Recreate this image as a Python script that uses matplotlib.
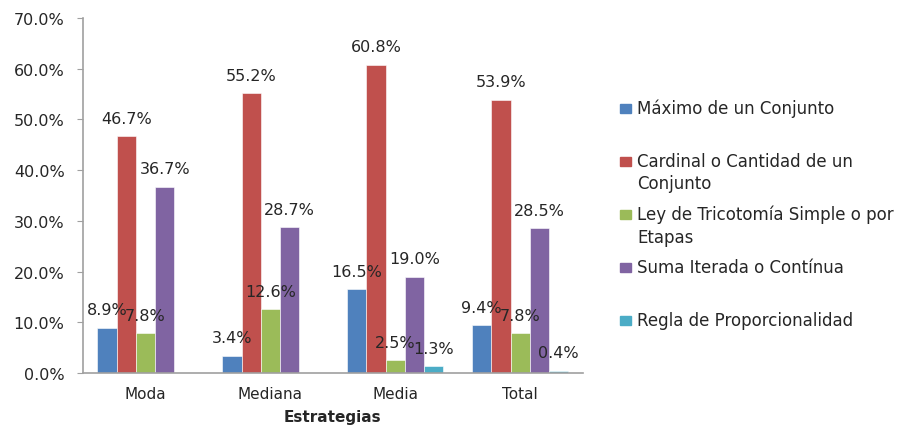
import matplotlib
matplotlib.use("Agg")
import matplotlib.pyplot as plt
import numpy as np
from matplotlib.patches import Rectangle

categories = ["Moda", "Mediana", "Media", "Total"]
series_names = [
    "Máximo de un Conjunto",
    "Cardinal o Cantidad de un\nConjunto",
    "Ley de Tricotomía Simple o por\nEtapas",
    "Suma Iterada o Contínua",
    "Regla de Proporcionalidad",
]
maximo = [8.9, 3.4, 16.5, 9.4]
cardinal = [46.7, 55.2, 60.8, 53.9]
tricotomia = [7.8, 12.6, 2.5, 7.8]
suma = [36.7, 28.7, 19.0, 28.5]
proporcionalidad = [np.nan, np.nan, 1.3, 0.4]
yticks = [0, 10, 20, 30, 40, 50, 60, 70]

series = [maximo, cardinal, tricotomia, suma, proporcionalidad]
colors = ["#4F81BD", "#C0504D", "#9BBB59", "#8064A2", "#4BACC6"]
text_color = "#262626"

fig = plt.figure(figsize=(9.02, 4.27), dpi=100)
ax = fig.add_axes([0.092, 0.1241, 0.554, 0.8314])

x = np.arange(len(categories))
width = 0.154
for i, (vals, color) in enumerate(zip(series, colors)):
    pos = x + (i - 2) * width
    ax.bar(pos, vals, width=width, color=color, edgecolor="white", linewidth=0.4)
    for px, v in zip(pos, vals):
        if np.isnan(v):
            continue
        ax.annotate(f"{v:.1f}%", (px, v), xytext=(0, 13), textcoords="offset points",
                    ha="center", va="center", fontsize=11.5, color=text_color)

ax.set_xlim(-0.5, 3.5)
ax.set_ylim(0, 70)
ax.set_yticks(yticks)
ax.set_yticklabels([f"{t:.1f}%" for t in yticks], fontsize=11.5, color=text_color)
ax.set_xticks(x)
ax.set_xticklabels(categories, fontsize=11, color=text_color)
ax.tick_params(axis="x", length=0, pad=9)
ax.tick_params(axis="y", length=4.3, color="#A0A0A0", pad=9)
ax.set_xlabel("Estrategias", fontsize=11, fontweight="bold", labelpad=6,
              color=text_color)

for side in ("top", "right"):
    ax.spines[side].set_visible(False)
for side in ("left", "bottom"):
    ax.spines[side].set_color("#A0A0A0")
    ax.spines[side].set_linewidth(1.2)

# legend entries, patch aligned with the first line of each label
legend_y = [109, 162, 215, 268, 321]
for name, color, yp in zip(series_names, colors, legend_y):
    fy = 1 - yp / 427
    fig.patches.append(Rectangle((620 / 902, fy - 4.5 / 427), 11 / 902, 9 / 427,
                                 transform=fig.transFigure, color=color))
    fig.text(637 / 902, fy + 9 / 427, name, fontsize=12, va="top", ha="left",
             color=text_color, linespacing=1.3)

plt.savefig("out.png", dpi=100)
